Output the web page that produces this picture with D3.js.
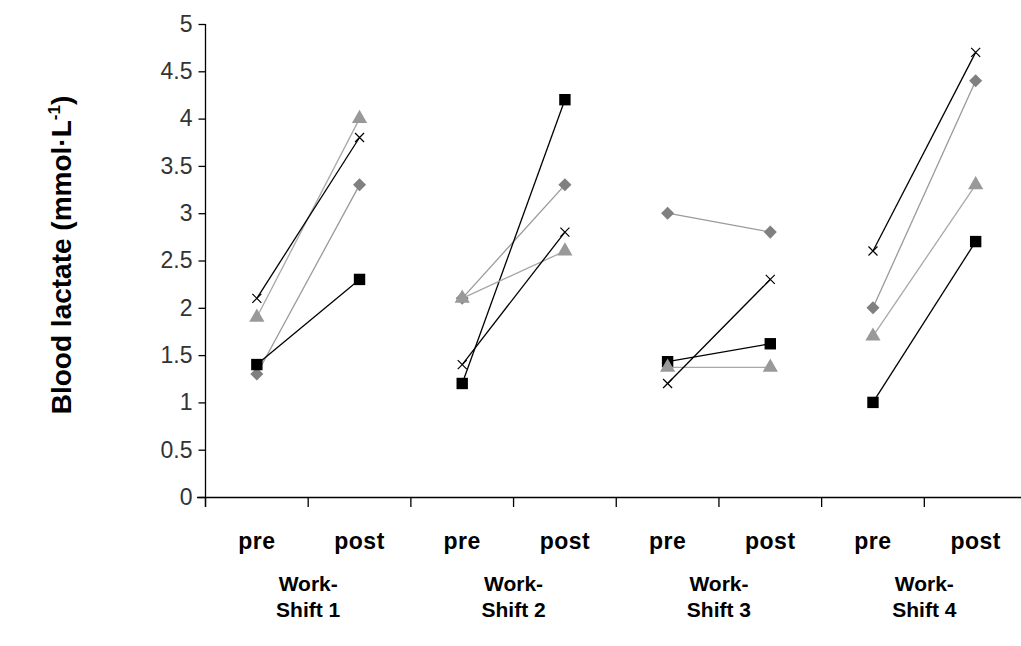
<!DOCTYPE html>
<html><head><meta charset="utf-8">
<script src="https://cdn.jsdelivr.net/npm/d3@7"></script>
<style>html,body{margin:0;padding:0;background:#fff;overflow:hidden}svg{display:block}</style>
</head><body><svg id="c" width="1021" height="646"></svg>
<script>
const shifts = ["Work-Shift 1","Work-Shift 2","Work-Shift 3","Work-Shift 4"];
const phases = ["pre","post"];
const yTicks = [0,0.5,1,1.5,2,2.5,3,3.5,4,4.5,5];
// values per shift: [pre, post]
const diamond  = [[1.3,3.3],[2.1,3.3],[3.0,2.8],[2.0,4.4]];
const square   = [[1.4,2.3],[1.2,4.2],[1.43,1.62],[1.0,2.7]];
const triangle = [[1.9,4.0],[2.1,2.6],[1.37,1.37],[1.7,3.3]];
const cross    = [[2.1,3.8],[1.4,2.8],[1.2,2.3],[2.6,4.7]];

const series = [
  {name:"diamond", values:diamond, line:"#9a9a9a", fill:"#808080", sym:d3.symbolSquare, rot:45, size:85},
  {name:"square", values:square, line:"#000", fill:"#000", sym:d3.symbolSquare, rot:0, size:130},
  {name:"triangle", values:triangle, line:"#a8a8a8", fill:"#999999", sym:d3.symbolTriangle, rot:0, size:100},
  {name:"cross", values:cross, line:"#000", fill:"none", sym:null, rot:0, size:0}
];

const svg = d3.select("#c");
const cats = [];
shifts.forEach((s,i)=>phases.forEach(p=>cats.push(i+"|"+p)));
const x = d3.scaleBand().domain(cats).range([205.5,1027]);
const y = d3.scaleLinear().domain([0,5]).range([497,24]);

// y axis
const yAxis = svg.append("g").attr("transform","translate(205.5,0)")
  .call(d3.axisLeft(y).tickValues(yTicks).tickSize(7).tickPadding(6).tickFormat(d=>String(d)));
yAxis.select(".domain").attr("stroke","#000").attr("stroke-width",1.3).attr("d","M0,24V507");
yAxis.selectAll(".tick line").attr("stroke","#000").attr("stroke-width",1.3);
yAxis.selectAll(".tick text").attr("font-family","Liberation Sans, Arial, sans-serif").attr("font-size",23).attr("fill","#333");

// x axis
const xAxis = svg.append("g").attr("transform","translate(0,497.5)")
  .call(d3.axisBottom(x).tickSize(0).tickFormat(""));
xAxis.select(".domain").attr("stroke","#000").attr("stroke-width",1.3).attr("d","M197,0H1027");
xAxis.selectAll(".tick").remove();
// boundary ticks
const bounds = cats.map(c=>x(c)).concat([x(cats[cats.length-1])+x.bandwidth()]);
svg.append("g").selectAll("line").data(bounds).join("line")
  .attr("x1",d=>d).attr("x2",d=>d).attr("y1",497.5).attr("y2",507)
  .attr("stroke","#000").attr("stroke-width",1.3);

// phase labels
svg.append("g").selectAll("text").data(cats).join("text")
  .attr("x",d=>x(d)+x.bandwidth()/2).attr("y",549)
  .attr("text-anchor","middle")
  .attr("font-family","Liberation Sans, Arial, sans-serif").attr("font-weight","bold").attr("font-size",23)
  .attr("letter-spacing",0.5)
  .text(d=>d.split("|")[1]);

// shift labels
const sg = svg.append("g");
shifts.forEach((s,i)=>{
  const cx = (x(i+"|pre")+x(i+"|post")+x.bandwidth())/2;
  const t = sg.append("text").attr("text-anchor","middle")
    .attr("font-family","Liberation Sans, Arial, sans-serif").attr("font-weight","bold").attr("font-size",21);
  t.append("tspan").attr("x",cx).attr("y",591).text("Work-");
  t.append("tspan").attr("x",cx).attr("y",617).text(s.replace("Work-",""));
});

// y title
const yt = svg.append("text").attr("transform","translate(71,255) rotate(-90)")
  .attr("text-anchor","middle")
  .attr("font-family","Liberation Sans, Arial, sans-serif").attr("font-weight","bold").attr("font-size",28);
yt.append("tspan").text("Blood lactate (mmol·L");
yt.append("tspan").attr("font-size",17).attr("dy",-11).text("-1");
yt.append("tspan").attr("dy",11).text(")");

// lines & markers
const line = d3.line().x(d=>d[0]).y(d=>d[1]);
series.forEach(s=>{
  const g = svg.append("g");
  s.values.forEach((v,i)=>{
    const pts = phases.map((p,j)=>[x(i+"|"+p)+x.bandwidth()/2, y(v[j])]);
    g.append("path").attr("d",line(pts)).attr("fill","none").attr("stroke",s.line).attr("stroke-width",1.3);
    pts.forEach(pt=>{
      if (s.sym) {
        g.append("path").attr("d",d3.symbol(s.sym,s.size)()).attr("transform",`translate(${pt[0]},${pt[1]}) rotate(${s.rot})`)
          .attr("fill",s.fill);
      } else {
        const r=4.5;
        g.append("path").attr("d",`M${pt[0]-r},${pt[1]-r}L${pt[0]+r},${pt[1]+r}M${pt[0]-r},${pt[1]+r}L${pt[0]+r},${pt[1]-r}`)
          .attr("stroke","#000").attr("stroke-width",1.2).attr("fill","none");
      }
    });
  });
});
</script></body></html>
